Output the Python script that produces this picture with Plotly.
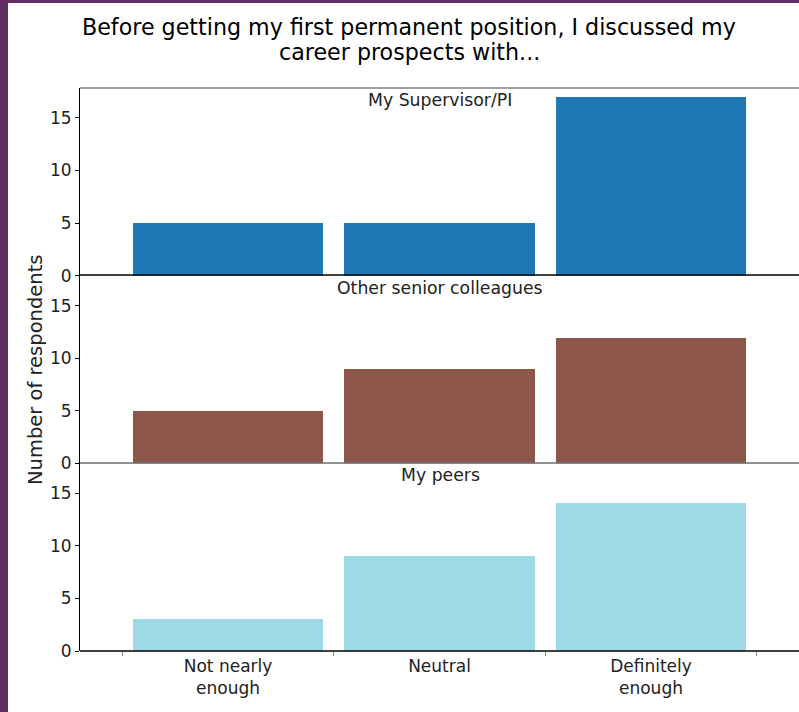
import plotly.graph_objects as go
from plotly.subplots import make_subplots

categories = ["Not nearly<br>enough", "Neutral", "Definitely<br>enough"]
groups = ["My Supervisor/PI", "Other senior colleagues", "My peers"]
supervisor = [5, 5, 17]
senior = [5, 9, 12]
peers = [3, 9, 14]
series = [supervisor, senior, peers]
colors = ["#1f77b4", "#8c564b", "#9edae5"]
title_lines = ["Before getting my first permanent position, I discussed my",
               "career prospects with..."]

W, H = 799, 712
ML, MR, MT, MB = 80, 0, 88, 61
PW, PH = W - ML - MR, H - MT - MB

fig = make_subplots(rows=3, cols=1, shared_xaxes=True, vertical_spacing=0)
xs = list(range(len(categories)))
FONT = "DejaVu Sans"


def px_to_py(ypix):
    return (H - MB - ypix) / PH


def px_to_px(xpix):
    return (xpix - ML) / PW


for i, (vals, col) in enumerate(zip(series, colors)):
    fig.add_trace(go.Bar(x=xs, y=vals, marker=dict(color=col, line=dict(width=0)),
                         width=0.9, showlegend=False, hoverinfo="skip"), row=i + 1, col=1)
    fig.update_yaxes(range=[0, 17.85], tickvals=[0, 5, 10, 15], ticks="outside",
                     ticklen=4, tickcolor="black", showline=True, linecolor="black",
                     linewidth=1, showgrid=False, zeroline=False,
                     tickfont=dict(family=FONT, size=17, color="#222"), row=i + 1, col=1)
    fig.update_xaxes(range=[-0.7, 2.7], showgrid=False, zeroline=False, showline=False,
                     showticklabels=(i == 2), ticks="", row=i + 1, col=1)

fig.update_xaxes(tickvals=xs, ticktext=categories, ticklabelstandoff=3,
                 tickfont=dict(family=FONT, size=17, color="#222"),
                 minor=dict(tickvals=[-0.5, 0.5, 1.5, 2.5], ticks="outside", ticklen=4,
                            tickcolor="#888", tickwidth=1),
                 row=3, col=1)

# horizontal spines
for ypix, c in [(88, "#808080"), (275, "black"), (463, "#6e6e6e"), (651, "black")]:
    yp = px_to_py(ypix)
    fig.add_shape(type="line", xref="paper", yref="paper", x0=0, x1=1, y0=yp, y1=yp,
                  line=dict(color=c, width=1.3))

# subplot titles
for i, g in enumerate(groups):
    top = 1 - i / 3
    fig.add_annotation(text=g, xref="paper", yref="paper", x=px_to_px(440), y=top,
                       yanchor="top", yshift=0, showarrow=False,
                       font=dict(family=FONT, size=17.3, color="#222"))

fig.add_annotation(text="Number of respondents", xref="paper", yref="paper",
                   x=px_to_px(35), y=px_to_py(370), xanchor="center", yanchor="middle",
                   textangle=-90, showarrow=False,
                   font=dict(family=FONT, size=19.5, color="#222"))

# figure title (two lines)
for line, ypix in zip(title_lines, [27, 52]):
    fig.add_annotation(text=line, xref="paper", yref="paper", x=px_to_px(409),
                       y=px_to_py(ypix), xanchor="center", yanchor="middle",
                       showarrow=False, font=dict(family=FONT, size=22.2, color="black"))

# purple frame strips
fig.add_shape(type="rect", xref="paper", yref="paper", x0=-ML / PW - 0.01, x1=px_to_px(8),
              y0=-MB / PH - 0.01, y1=(PH + MT) / PH + 0.01, fillcolor="#612e63",
              line=dict(width=0), layer="above")
fig.add_shape(type="rect", xref="paper", yref="paper", x0=-ML / PW - 0.01, x1=1.01,
              y0=px_to_py(3), y1=(PH + MT) / PH + 0.01, fillcolor="#612e63",
              line=dict(width=0), layer="above")

fig.update_layout(
    width=W, height=H,
    margin=dict(l=ML, r=MR, t=MT, b=MB),
    paper_bgcolor="white", plot_bgcolor="white",
    bargap=0,
)

fig.write_html("out.html", config={"displayModeBar": False},
               post_script="document.body.style.margin='0';document.body.style.overflow='hidden';")
